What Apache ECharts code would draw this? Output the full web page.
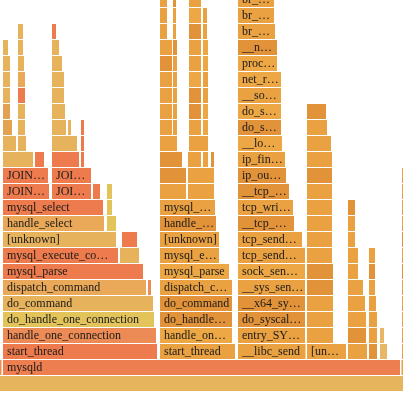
<!DOCTYPE html>
<html><head><meta charset="utf-8">
<script src="https://cdn.jsdelivr.net/npm/echarts@6/dist/echarts.min.js"></script>
<style>html,body{margin:0;padding:0;background:#fff}#c{width:404px;height:393px}</style>
</head><body><div id="c"></div>
<script>
// Flame graph frames: [level, startSample, endSample, functionName]
const totalSamples = 404;
const baseFrames = [
  [0, 0, 404, 'all'],
  [1, 0, 2.5, '[unknown]'],
  [1, 3, 401, 'mysqld'],
  [1, 401.5, 404, 'swapper']
];
const mysqlStack = [
  [2, 3, 158, 'start_thread'],
  [3, 3, 157, 'handle_one_connection'],
  [4, 3, 155, 'do_handle_one_connection'],
  [5, 3, 154, 'do_command'],
  [6, 3, 147, 'dispatch_command'],
  [6, 148, 152, 'my_net_read'],
  [7, 3, 144, 'mysql_parse'],
  [8, 3, 119, 'mysql_execute_command'],
  [8, 120, 140, 'THD::cleanup_after_query'],
  [9, 3, 117, '[unknown]'],
  [9, 122, 138, 'close_thread_tables'],
  [10, 3, 105, 'handle_select'],
  [10, 107, 117, 'open_tables'],
  [11, 3, 104, 'mysql_select'],
  [11, 107, 113, 'open_table'],
  [12, 3, 50, 'JOIN::exec'],
  [12, 52, 92, 'JOIN::optimize'],
  [12, 93, 101, 'JOIN::prepare'],
  [12, 107, 113, 'get_table_share'],
  [13, 3, 49, 'JOIN::exec_inner'],
  [13, 52, 92, 'JOIN::optimize_inner'],
  [14, 3, 34, 'sub_select'],
  [14, 35, 45, 'do_select'],
  [14, 52, 80, 'make_join_statistics'],
  [14, 81, 85, 'setup_fields'],
  [15, 3, 17, 'evaluate_join_record'],
  [15, 18, 27, 'join_init_read_record'],
  [15, 52, 78, 'get_quick_record_count'],
  [15, 81, 85, 'Item_field::fix_fields'],
  [16, 3, 13, 'end_send'],
  [16, 18, 26, 'init_read_record'],
  [16, 52, 67, 'SQL_SELECT::test_quick_select'],
  [16, 68, 72, 'get_key_scans_params'],
  [16, 81, 85, 'find_field_in_tables'],
  [17, 3, 11, 'select_send::send_data'],
  [17, 18, 26, 'handler::ha_rnd_init'],
  [17, 52, 66, 'get_mm_tree'],
  [18, 3, 11, 'Protocol::send_result_set_row'],
  [18, 18, 26, 'ha_innobase::rnd_init'],
  [18, 52, 65, 'get_mm_parts'],
  [19, 3, 11, 'Item::send'],
  [19, 18, 26, 'ha_innobase::index_init'],
  [19, 52, 65, 'get_mm_leaf'],
  [20, 3, 11, 'Protocol_text::store'],
  [20, 18, 25, 'ha_innobase::change_active_index'],
  [20, 52, 63, 'Field_long::store'],
  [21, 3, 9, 'net_store_data'],
  [21, 18, 24, 'innobase_get_index'],
  [21, 52, 60, 'Field::store'],
  [22, 18, 24, 'dict_table_get_index'],
  [22, 52, 57, 'my_strntoll']
];
const clientStack = [
  [2, 160, 236, 'start_thread'],
  [3, 160, 233, 'handle_one_connection'],
  [4, 160, 233, 'do_handle_one_connection'],
  [5, 160, 233, 'do_command'],
  [6, 160, 233, 'dispatch_command'],
  [7, 160, 230, 'mysql_parse'],
  [8, 160, 220, 'mysql_execute_command'],
  [9, 160, 220, '[unknown]'],
  [10, 160, 217, 'handle_select'],
  [11, 160, 216, 'mysql_select'],
  [12, 160, 187, 'JOIN::exec'],
  [12, 188, 215, 'JOIN::optimize'],
  [13, 160, 187, 'JOIN::exec_inner'],
  [13, 188, 215, 'JOIN::optimize_inner'],
  [14, 160, 183, 'sub_select'],
  [14, 188, 202, 'make_join_statistics'],
  [14, 203, 209, 'update_ref_and_keys'],
  [14, 211, 215, 'setup_fields'],
  [15, 160, 178, 'evaluate_join_record'],
  [15, 189, 209, 'get_quick_record_count'],
  [16, 160, 173, 'end_send'], [16, 173, 178, 'join_read_next'],
  [16, 189, 202, 'test_quick_select'], [16, 203, 209, 'get_key_scans'],
  [17, 160, 173, 'select_send::send_data'], [17, 173, 178, 'handler::ha_index_next'],
  [17, 189, 202, 'get_mm_tree'], [17, 203, 209, 'check_quick_select'],
  [18, 160, 173, 'Protocol::send_result_set_row'], [18, 173, 178, 'ha_innobase::index_next'],
  [18, 189, 202, 'get_mm_parts'], [18, 203, 209, 'ha_innobase::records_in_range'],
  [19, 160, 173, 'Item::send'], [19, 173, 178, 'ha_innobase::general_fetch'],
  [19, 189, 202, 'get_mm_leaf'], [19, 203, 209, 'btr_estimate_n_rows'],
  [20, 160, 173, 'Protocol_text::store'], [20, 173, 178, 'row_search_mvcc'],
  [20, 189, 202, 'Field_long::store'], [20, 203, 209, 'btr_cur_search_to_nth_level'],
  [21, 160, 173, 'net_store_data'], [21, 173, 178, 'row_sel_store_mysql_rec'],
  [21, 189, 202, 'Field::store'], [21, 203, 209, 'buf_page_get_gen'],
  [22, 160, 168, 'my_net_write'], [22, 173, 177, 'mem_heap_alloc'],
  [22, 189, 202, 'my_strntoll'], [22, 203, 208, 'buf_page_hash_get'],
  [23, 160, 168, 'net_write_buff'], [23, 173, 177, 'mem_heap_create'],
  [23, 189, 202, 'my_strtoll10'], [23, 203, 208, 'rw_lock_s_lock'],
  [24, 160, 168, 'net_flush'], [24, 173, 177, 'ut_malloc'],
  [24, 189, 202, 'ctype_strtol']
];
const sendStack = [
  [2, 238, 306.5, '__libc_send'],
  [3, 238, 306, 'entry_SYSCALL_64_after_hwframe'],
  [4, 238, 306, 'do_syscall_64'],
  [5, 238, 306, '__x64_sys_sendto'],
  [6, 238, 306, '__sys_sendto'],
  [7, 238, 306, 'sock_sendmsg'],
  [8, 238, 306, 'tcp_sendmsg'],
  [9, 238, 303, 'tcp_sendmsg_locked'],
  [10, 238, 295, '__tcp_push_pending_frames'],
  [11, 238, 294, 'tcp_write_xmit'],
  [12, 238, 290, '__tcp_transmit_skb'],
  [13, 238, 287, 'ip_output'],
  [14, 238, 286, 'ip_finish_output2'],
  [15, 238, 283, '__local_bh_enable_ip'],
  [16, 238, 282, 'do_softirq'],
  [17, 238, 282, 'do_softirq_own_stack'],
  [18, 238, 282, '__softirqentry_text_start'],
  [19, 238, 282, 'net_rx_action'],
  [20, 238, 278, 'process_backlog'],
  [21, 238, 278, '__netif_receive_skb'],
  [22, 238, 276, 'br_handle_frame'],
  [23, 238, 275, 'br_handle_frame_finish'],
  [24, 238, 275, 'br_forward']
];
const rightStacks = [
  [2, 307, 347, '[unknown]'], [2, 348, 368, 'clone'], [2, 369, 378, 'clone'], [2, 380, 388, '__GI___pthread_mutex_lock'],
  [3, 307, 334, 'srv_master_thread'], [3, 348, 367, 'start_thread'], [3, 369, 378, 'start_thread'], [3, 380, 385, 'futex_wait'],
  [4, 307, 334, 'srv_master_do_idle_tasks'], [4, 348, 367, 'pfs_spawn_thread'], [4, 369, 378, 'io_handler_thread'],
  [5, 307, 334, 'srv_sync_log_buffer_in_background'], [5, 348, 366, 'buf_flush_page_cleaner'], [5, 369, 377, 'fil_aio_wait'],
  [6, 307, 334, 'log_buffer_sync_in_background'], [6, 348, 364, 'pc_flush_slot'], [6, 369, 376, 'os_aio_handler'],
  [7, 307, 334, 'log_write_up_to'], [7, 348, 359, 'buf_flush_do_batch'], [7, 369, 376, 'os_aio_linux_handler'],
  [8, 307, 333, 'log_write_flush_to_disk_low'], [8, 348, 359, 'buf_flush_batch'], [8, 369, 376, 'io_getevents'],
  [9, 307, 333, 'fil_flush'], [9, 348, 356, 'buf_flush_LRU_list_batch'],
  [10, 307, 333, 'os_file_flush_func'], [10, 348, 356, 'buf_LRU_free_page'],
  [11, 307, 333, 'os_file_fsync_posix'], [11, 348, 356, 'buf_page_free'],
  [12, 307, 333, 'fsync'],
  [13, 307, 333, 'entry_SYSCALL_64'],
  [14, 307, 333, 'do_syscall_64'],
  [15, 307, 332, 'do_fsync'],
  [16, 307, 328, 'ext4_sync_file'],
  [17, 307, 327, 'jbd2_complete_transaction'],
  [2, 402, 404, 'cpu_startup_entry'], [3, 402, 404, 'do_idle'], [4, 402, 404, 'cpuidle_enter'],
  [5, 402, 404, 'cpuidle_enter_state'], [6, 402, 404, 'intel_idle'], [7, 402, 404, 'mwait_idle'],
  [8, 402, 404, 'arch_cpu_idle'], [9, 402, 404, 'default_idle'], [10, 402, 404, 'native_safe_halt'],
  [11, 402, 404, 'apic_timer_interrupt'], [12, 402, 404, 'smp_apic_timer_interrupt'], [13, 402, 404, 'irq_exit']
];

// Styles (kept separate from the data): one palette letter per frame
const palette = {
  R: '#ee7b4d', C: '#ec8b55', Y: '#e3c45b', G: '#e6b35c', A: '#e9a959', H: '#e3a152',
  O: '#eaa141', D: '#e2933a', L: '#eda845', P: '#e8b765', B: '#e5b45d', M: '#ec7e50'
};
const baseStyle = 'BCMO';
const mysqlStyle = 'RCYGACRRGGRAYRYRRRYRRGRRRGGGRHGGGRHGGGRGGAGGGGGGGG';
const clientStyle = 'OLDDOLOODOOODODOODOOOOOLOODLOODOOOLODOOLODOLOODOOOLOODOL';
const sendStyle = 'OODDOLOODODDOLDLOLLDOOO';
const rightStyle = 'OODPODOPOOOOOODOODODOOOOOOOODODOOODOOLOODODOOOODO';
const labelFont = '12px "Liberation Serif"';

function build(list, style) {
  return list.map((f, i) => ({ f, color: palette[style[i % style.length]] || '#eaa141' }));
}
const all = [].concat(
  build(baseFrames, baseStyle), build(mysqlStack, mysqlStyle),
  build(clientStack, clientStyle), build(sendStack, sendStyle), build(rightStacks, rightStyle)
);

const measureCtx = document.createElement('canvas').getContext('2d');
measureCtx.font = labelFont;
function fitLabel(text, avail) {
  if (measureCtx.measureText(text).width <= avail) return text;
  for (let n = text.length - 1; n > 0; n--) {
    const t = text.slice(0, n) + '…';
    if (measureCtx.measureText(t).width <= avail) return t;
  }
  return '';
}

const chart = echarts.init(document.getElementById('c'), null, { renderer: 'canvas' });
chart.setOption({
  animation: false,
  backgroundColor: '#ffffff',
  grid: { left: 0, right: 0, top: 0, height: 392 },
  xAxis: { type: 'value', min: 0, max: totalSamples, show: false },
  yAxis: { type: 'value', min: 0, max: 24.5, show: false },
  series: [{
    type: 'custom',
    clip: true,
    data: all.map(d => [d.f[0], d.f[1], d.f[2]]),
    encode: { x: [1, 2], y: 0 },
    renderItem: function (params, api) {
      const item = all[params.dataIndex];
      const level = api.value(0);
      const p0 = api.coord([api.value(1), level + 1]);
      const p1 = api.coord([api.value(2), level]);
      const w = p1[0] - p0[0];
      const h = p1[1] - p0[1];
      const el = {
        type: 'rect',
        shape: { x: p0[0], y: p0[1], width: Math.max(w - 1, 0.5), height: h - 1 },
        style: { fill: item.color }
      };
      if (w >= 35 && item.f[0] > 0) {
        el.textContent = {
          style: { text: fitLabel(item.f[3], w - 6.5), font: labelFont, fill: '#1a1a1a' }
        };
        el.textConfig = { position: 'insideLeft', distance: 4 };
      }
      return el;
    }
  }]
});
</script>
</body></html>
